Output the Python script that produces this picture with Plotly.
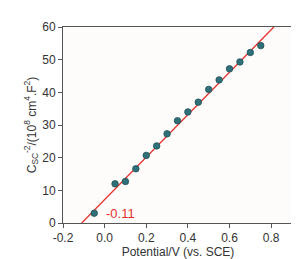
import plotly.graph_objects as go

potential = [-0.05, 0.05, 0.10, 0.15, 0.20, 0.25, 0.30, 0.35, 0.40, 0.45, 0.50, 0.55, 0.60, 0.65, 0.70, 0.75]
csc_inv2 = [3.0, 12.0, 12.7, 16.6, 20.7, 23.6, 27.3, 31.3, 34.0, 37.0, 40.9, 43.8, 47.2, 49.3, 52.2, 54.3]
fit_x = [-0.11, 0.813]
fit_y = [0.0, 60.0]
x_ticks = [-0.2, 0.0, 0.2, 0.4, 0.6, 0.8]
x_tick_labels = ["-0.2", "0.0", "0.2", "0.4", "0.6", "0.8"]
y_ticks = [0, 10, 20, 30, 40, 50, 60]
intercept_label = "-0.11"

fig = go.Figure()
fig.add_trace(go.Scatter(x=fit_x, y=fit_y, mode="lines",
                         line=dict(color="#e8302a", width=1.3), showlegend=False))
fig.add_trace(go.Scatter(x=potential, y=csc_inv2, mode="markers",
                         marker=dict(size=6.5, color="#2f7079",
                                     line=dict(color="#1f4f57", width=0.8)),
                         showlegend=False))
fig.add_annotation(x=-0.003, y=3.0, text=intercept_label, showarrow=False,
                   xanchor="left", yanchor="middle",
                   font=dict(color="#e8302a", size=13, family="Liberation Sans"))

axis_common = dict(showline=True, linecolor="#555555", linewidth=1, mirror=True,
                   ticks="outside", ticklen=4, tickcolor="#555555", showgrid=False,
                   zeroline=False, tickfont=dict(size=12, color="#333333", family="Liberation Sans"))
fig.update_xaxes(range=[-0.2, 0.905], tickvals=x_ticks, ticktext=x_tick_labels,
                 title=dict(text="Potential/V (vs. SCE)", standoff=1,
                            font=dict(size=12, color="#333333", family="Liberation Sans")),
                 **axis_common)
fig.update_yaxes(range=[0, 60], tickvals=y_ticks,
                 title=dict(text="C<sub>SC</sub><sup>-2</sup>/(10<sup>8</sup> cm<sup>4</sup>.F<sup>2</sup>)",
                            standoff=3,
                            font=dict(size=12, color="#333333", family="Liberation Sans")),
                 **axis_common)
fig.update_layout(width=299, height=259, margin=dict(l=55, r=14, t=15, b=38),
                  plot_bgcolor="#fdfcfb", paper_bgcolor="white")
fig.write_html("out.html")
